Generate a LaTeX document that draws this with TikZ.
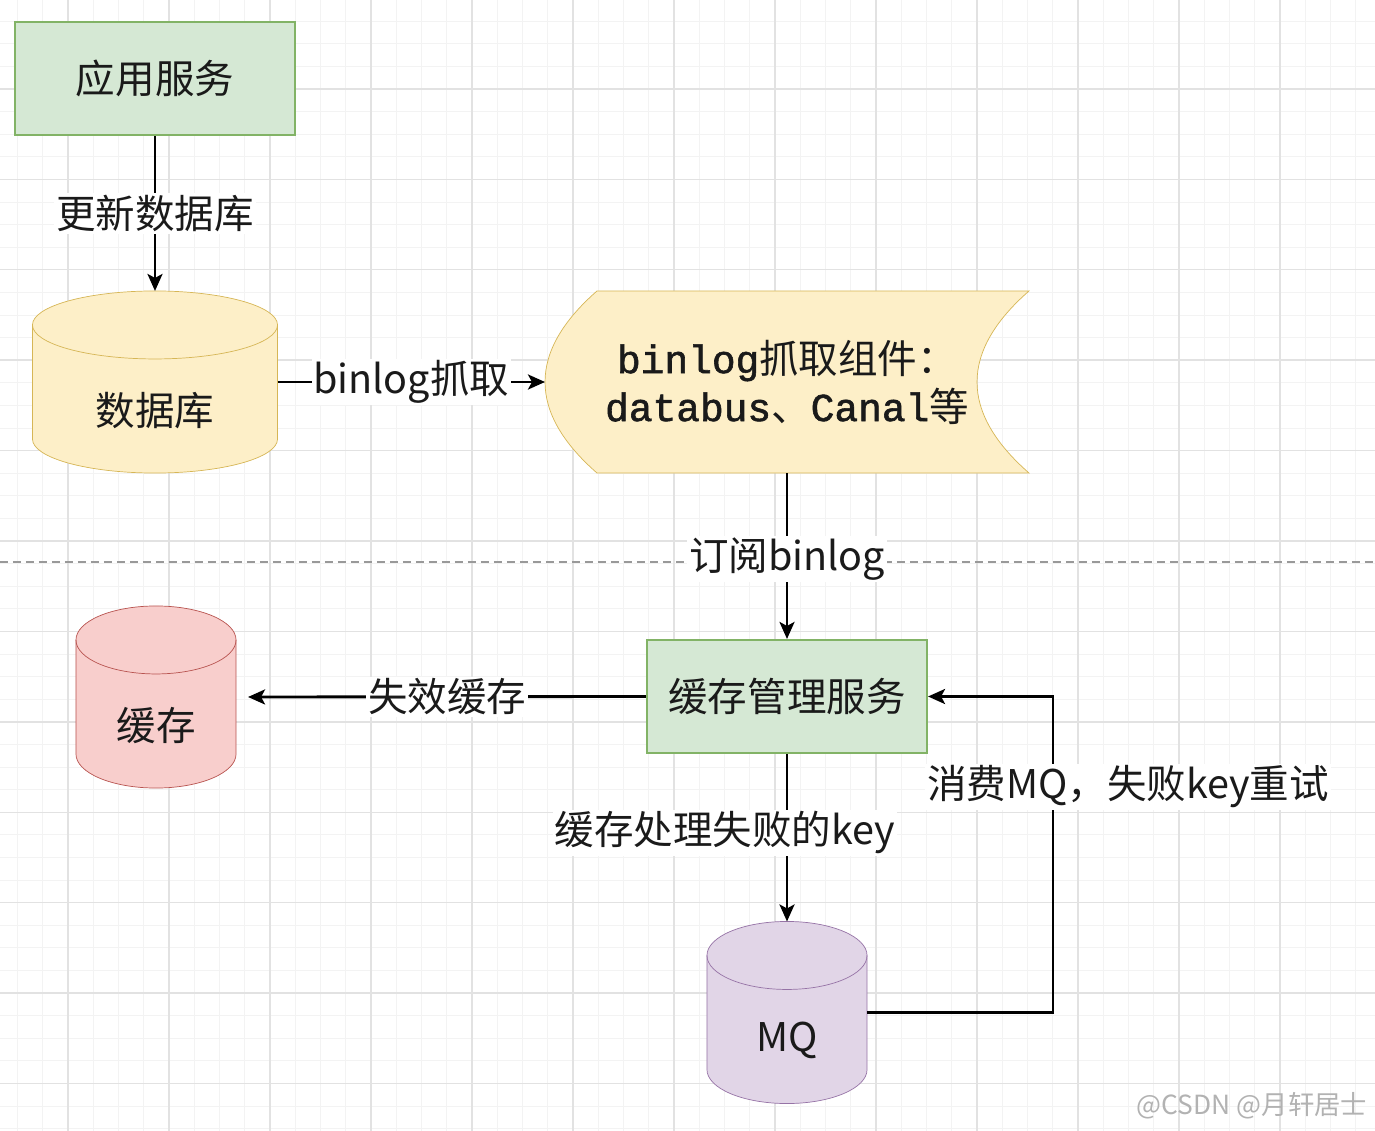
\documentclass[tikz,border=0pt]{standalone}
\usepackage{fontspec}
\setmainfont{Noto Sans CJK SC}
\newfontfamily\codefont{Liberation Mono}[FakeBold=1.5]
\usetikzlibrary{arrows.meta, calc, backgrounds}
\definecolor{cgreen}{HTML}{D5E8D4}
\definecolor{cgreenline}{HTML}{82B366}
\definecolor{cyellow}{HTML}{FDEFC8}
\definecolor{cyellowline}{HTML}{D6B656}
\definecolor{cred}{HTML}{F8CECC}
\definecolor{credline}{HTML}{B85450}
\definecolor{cpurple}{HTML}{E1D5E7}
\definecolor{cpurpleline}{HTML}{9673A6}
\definecolor{ctext}{HTML}{1A1A1A}
\definecolor{cgridmajor}{HTML}{E2E2E2}
\definecolor{cgridminor}{HTML}{F3F3F3}
\tikzset{
  every picture/.style={line width=1.2pt},
  box/.style={draw=#1line, fill=#1, minimum width=5.6cm, minimum height=2.26cm, inner sep=0pt},
  box/.default=cgreen,
  dbnode/.style={minimum height=3.6cm, inner sep=0pt},
  capnode/.style={minimum width=9.64cm, minimum height=3.6cm, inner sep=0pt, align=center, font=\fontsize{22.5}{27.3}\selectfont},
  edge/.style={draw=black, line width=1.6pt, -{Stealth[length=0.34cm, width=0.3cm, inset=0.08cm]}},
  lbl/.style={fill=white, inner sep=1pt},
  gridminor/.style={draw=cgridminor, line width=0.5pt},
  gridmajor/.style={draw=cgridmajor, line width=0.8pt},
  sepline/.style={draw=black!40, line width=1pt, dash pattern=on 0.16cm off 0.1cm},
}
\newcommand{\ry}{0.68cm}
% cylinder body round a node: node, fill, stroke
\newcommand{\drawcyl}[3]{%
  \draw[fill=#2, draw=#3] let \p1=(#1.north west), \p2=(#1.south east), \n1={(\x2-\x1)/2} in
    ([yshift=-\ry]#1.north west) -- ([yshift=\ry]#1.south west)
    arc[start angle=180, end angle=360, x radius=\n1, y radius=\ry]
    -- ([yshift=-\ry]#1.north east)
    arc[start angle=0, end angle=180, x radius=\n1, y radius=\ry] -- cycle;
  \draw[draw=#3] let \p1=(#1.north west), \p2=(#1.south east), \n1={(\x2-\x1)/2} in
    ([yshift=-\ry]#1.north west) arc[start angle=180, end angle=360, x radius=\n1, y radius=\ry];
}

\begin{document}
\begin{tikzpicture}[x=0.02cm, y=-0.02cm, every node/.append style={font=\fontsize{22.5}{27}\selectfont, text=ctext}]
  \useasboundingbox (0,0) rectangle (1375,1131);
  \node[box] (app) at (155,78.5) {应用服务};
  \node[dbnode, minimum width=4.86cm, label={[yshift=-0.58cm]center:数据库}] (db) at (155,382) {};
  \node[capnode] (cap) at (787,382) {{\codefont binlog}抓取组件：\\{\codefont databus}、{\codefont Canal}等};
  \node[box] (mgr) at (787,696.5) {缓存管理服务};
  \node[dbnode, minimum width=3.16cm, label={[yshift=-0.58cm]center:缓存}] (cache) at (156,697) {};
  \node[dbnode, minimum width=3.16cm, label={[yshift=-0.56cm]center:MQ}] (mq) at (787,1012.5) {};
  \node[font=\fontsize{15}{18}\selectfont, text=black!30] (mark) at (1252,1106) {@CSDN @月轩居士};

  \draw[edge] (app.south) -- node[lbl] {更新数据库} (db.north);
  \draw[edge] (db.east) -- node[lbl] {binlog抓取} (cap.west);
  \draw[edge] (cap.south) -- node[lbl, pos=0.52] {订阅binlog} (mgr.north);
  \draw[edge, shorten >=0.24cm] (mgr.west) -- node[lbl, pos=0.485] {失效缓存} (cache.east);
  \draw[edge] (mgr.south) -- node[lbl, pos=0.47, xshift=-1.24cm] {缓存处理失败的key} (mq.north);
  \coordinate (bend) at (1053,1012.5);
  \draw[edge] (mq.east) -- (bend) |- node[lbl, pos=0.357, xshift=1.5cm] {消费MQ，失败key重试} (mgr.east);

  \begin{scope}[on background layer]
    \clip (0,0) rectangle (1375,1131);
    \foreach \i in {-3,...,52} \draw[gridminor] ({68+25.25*\i},0) -- ++(0,1131);
    \foreach \i in {-4,...,47} \draw[gridminor] (0,{89+22.6*\i}) -- ++(1375,0);
    \foreach \i in {-1,...,13} \draw[gridmajor] ({68+101*\i},0) -- ++(0,1131);
    \foreach \i in {-1,...,12} \draw[gridmajor] (0,{89+90.4*\i}) -- ++(1375,0);
    \draw[sepline] (0,562) -- (1375,562);
    \drawcyl{db}{cyellow}{cyellowline}
    \drawcyl{cache}{cred}{credline}
    \drawcyl{mq}{cpurple}{cpurpleline}
    % data storage outline of the capture component
    \draw[fill=cyellow, draw=cyellowline] ([xshift=1.04cm]cap.north west) -- (cap.north east)
      .. controls ($(cap.north east)!1/3!(cap.south east)+(-69.3,0)$) and ($(cap.north east)!2/3!(cap.south east)+(-69.3,0)$) .. (cap.south east)
      -- ([xshift=1.04cm]cap.south west)
      .. controls ($(cap.north west)!2/3!(cap.south west)+(-17.3,0)$) and ($(cap.north west)!1/3!(cap.south west)+(-17.3,0)$) .. cycle;
  \end{scope}
\end{tikzpicture}
\end{document}
